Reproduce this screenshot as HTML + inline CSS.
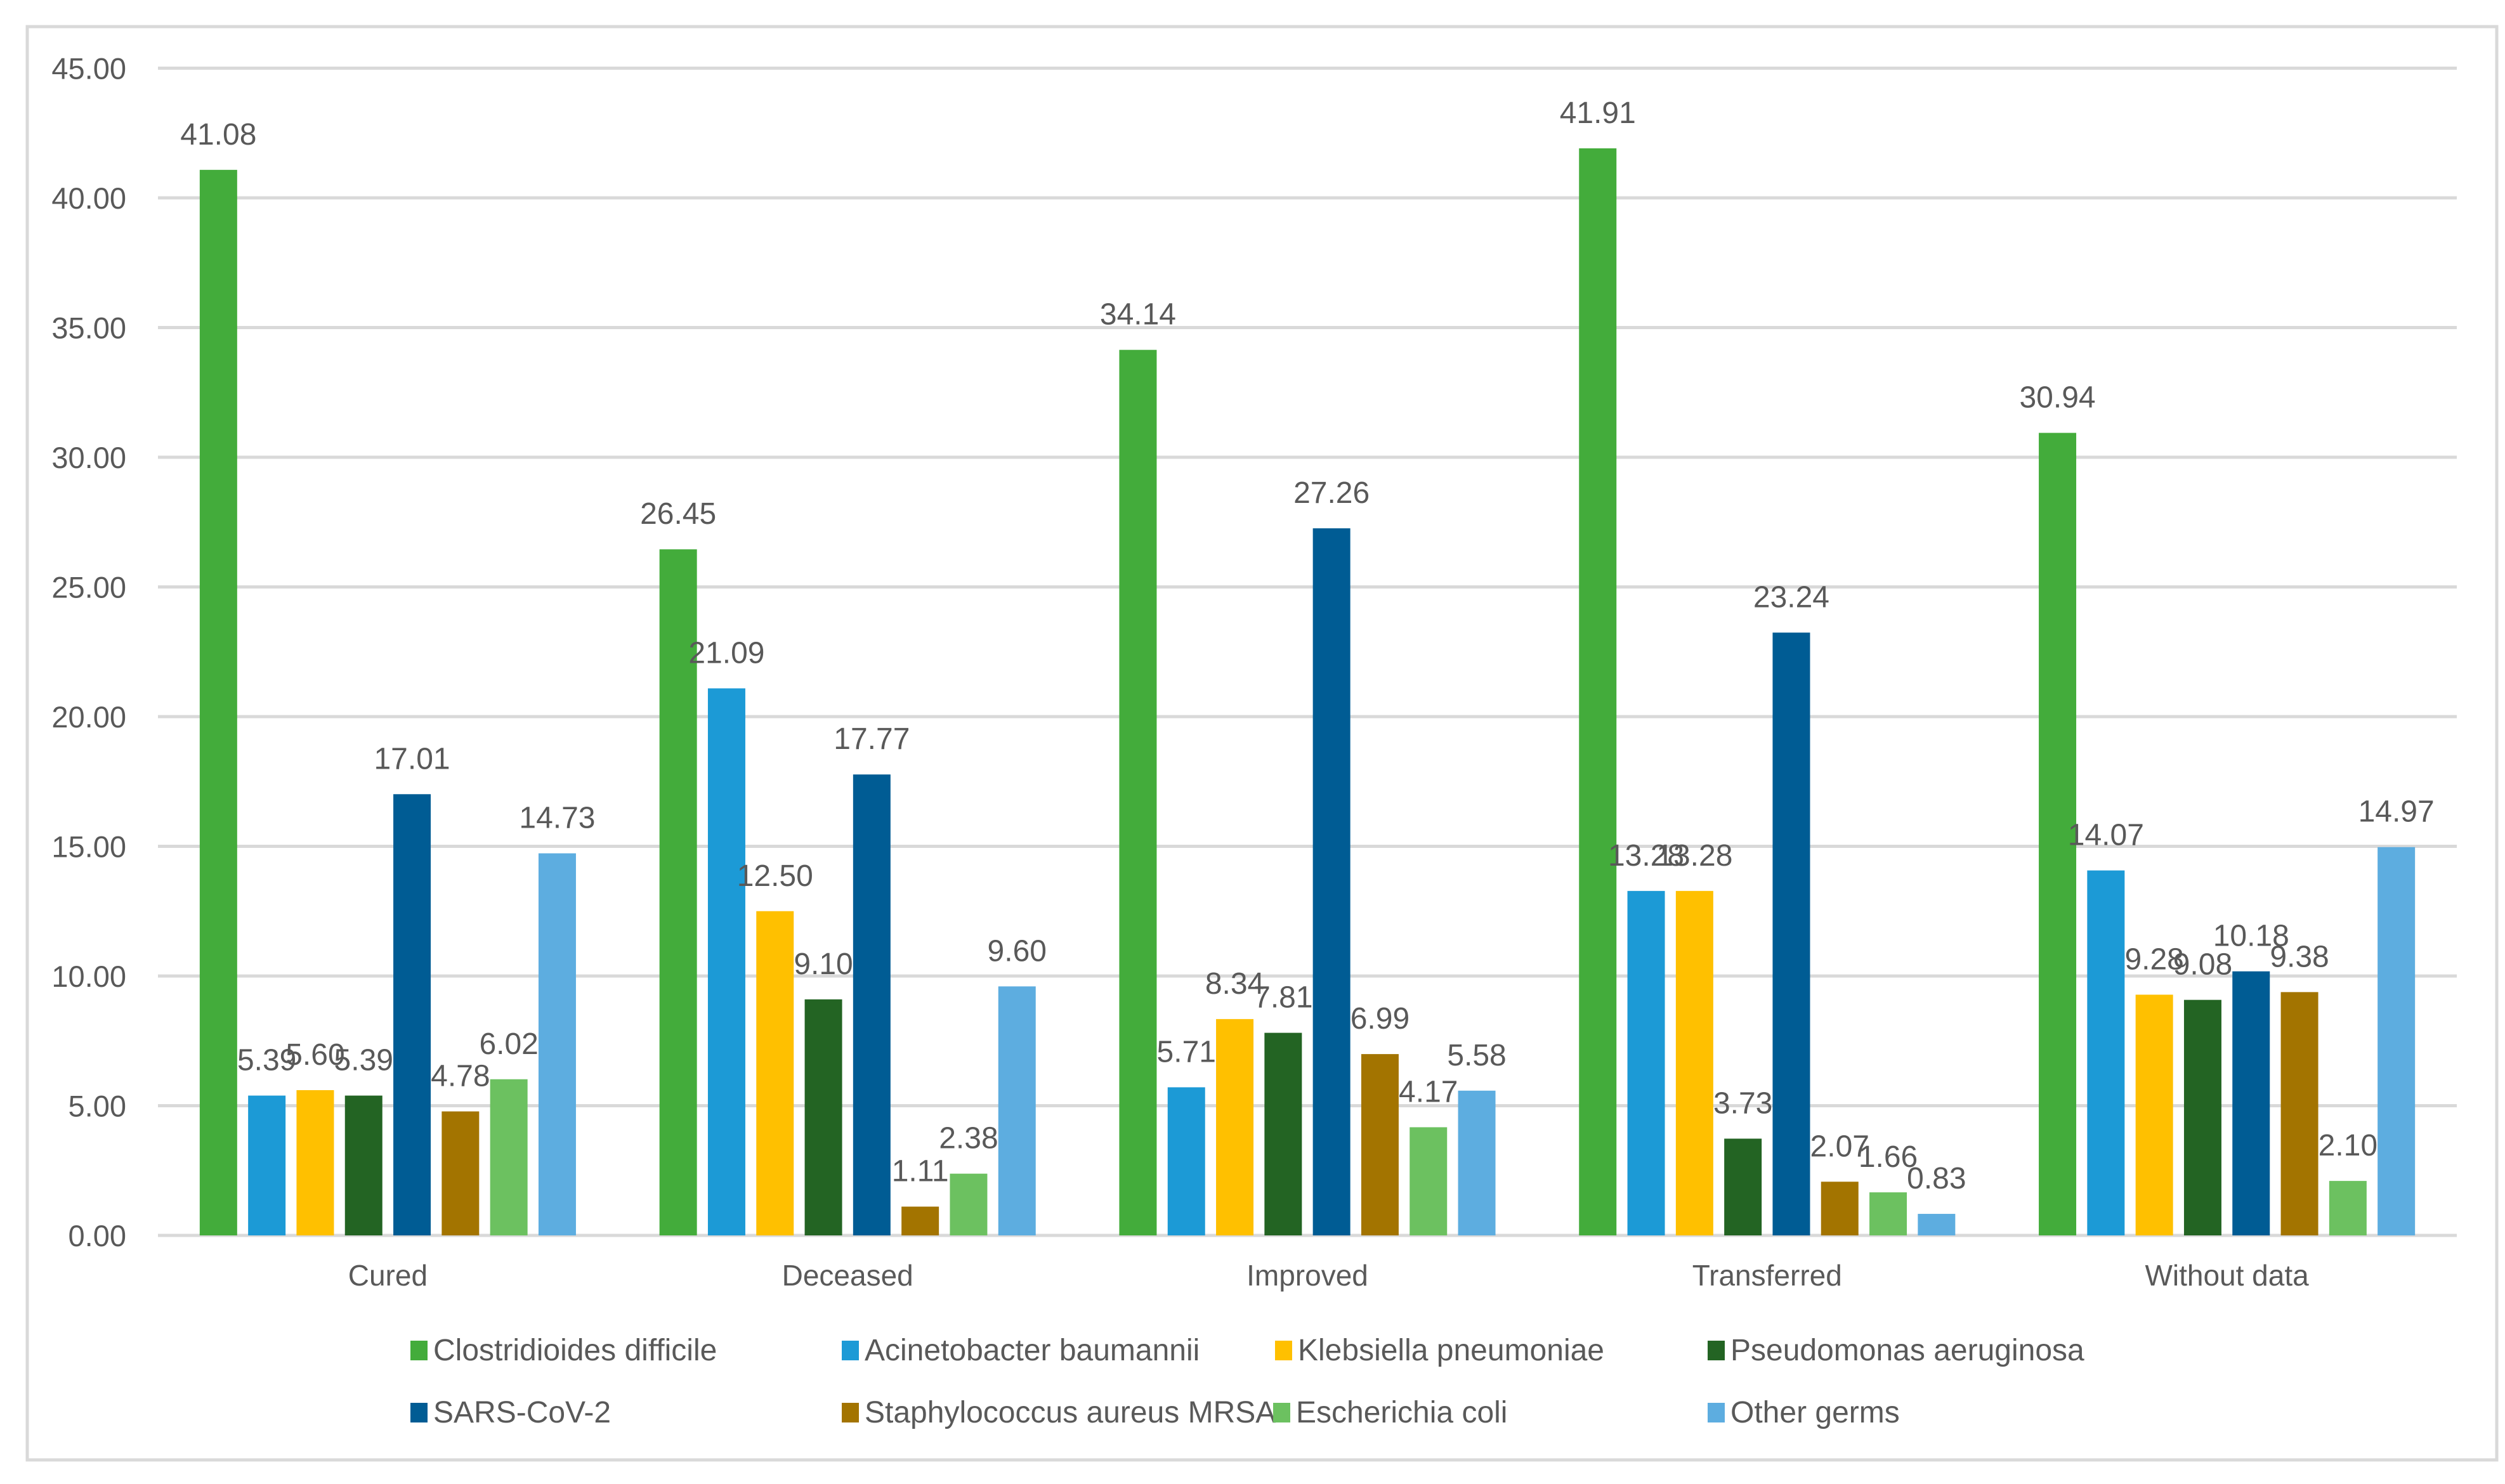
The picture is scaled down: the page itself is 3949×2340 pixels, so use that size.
<!DOCTYPE html>
<html><head><meta charset="utf-8"><style>
html,body{margin:0;padding:0;background:#fff;}
svg{display:block;font-family:"Liberation Sans",sans-serif;}
</style></head><body>
<svg id="chart" width="3949" height="2340" viewBox="0 0 3949 2340" xmlns="http://www.w3.org/2000/svg">
<rect x="43" y="42" width="3893" height="2260" fill="#fff" stroke="#d9d9d9" stroke-width="5"/>
<g id="grid"></g><g id="bars"></g><g id="labels"></g><g id="legend"></g>
</svg>
<script>
const categories = ["Cured","Deceased","Improved","Transferred","Without data"];
const seriesNames = ["Clostridioides difficile","Acinetobacter baumannii","Klebsiella pneumoniae","Pseudomonas aeruginosa","SARS-CoV-2","Staphylococcus aureus MRSA","Escherichia coli","Other germs"];
const clostridioides = [41.08,26.45,34.14,41.91,30.94];
const acinetobacter = [5.39,21.09,5.71,13.28,14.07];
const klebsiella = [5.60,12.50,8.34,13.28,9.28];
const pseudomonas = [5.39,9.10,7.81,3.73,9.08];
const sarsCov2 = [17.01,17.77,27.26,23.24,10.18];
const staphMRSA = [4.78,1.11,6.99,2.07,9.38];
const ecoli = [6.02,2.38,4.17,1.66,2.10];
const otherGerms = [14.73,9.60,5.58,0.83,14.97];
const yTicks = [0,5,10,15,20,25,30,35,40,45];

const series = [clostridioides,acinetobacter,klebsiella,pseudomonas,sarsCov2,staphMRSA,ecoli,otherGerms];
const colors = ["#43AC3B","#1C9AD6","#FFC000","#236423","#005C94","#A37400","#6CC160","#5DADE0"];
const NS="http://www.w3.org/2000/svg";
const plotL=249, plotR=3873, y0=1948, yTop=107.5, yMax=45;
const y=v=>y0-(v/yMax)*(y0-yTop);
const groupW=(plotR-plotL)/categories.length;
const barW=59, pitch=76.3;
const xBar=(g,s)=>plotL+groupW*g+groupW/2-(pitch*7+barW)/2+pitch*s;
function mk(tag,attrs,parent,text){const e=document.createElementNS(NS,tag);for(const k in attrs)e.setAttribute(k,attrs[k]);if(text!==undefined)e.textContent=text;parent.appendChild(e);return e;}
const grid=document.getElementById('grid'),bars=document.getElementById('bars'),labels=document.getElementById('labels'),legend=document.getElementById('legend');
yTicks.forEach(t=>{
  const l=mk('line',{x1:plotL,x2:plotR,y1:y(t),y2:y(t),stroke:'#d9d9d9','stroke-width':5},grid);
  
  
  const tx=mk('text',{x:199,y:y(t)+17,'text-anchor':'end','font-size':47,fill:'#595959'},grid,t.toFixed(2));
  
  
});
categories.forEach((c,g)=>{
  const tx=mk('text',{x:plotL+groupW*g+groupW/2,y:2027,'text-anchor':'middle','font-size':46,fill:'#595959'},labels,c);
  
  
  series.forEach((arr,s)=>{
    const v=arr[g];
    const r=mk('rect',{x:xBar(g,s),y:y(v),width:barW,height:y0-y(v),fill:colors[s]},bars);
    
    
    const lt=mk('text',{x:xBar(g,s)+barW/2,y:y(v)-40,'text-anchor':'middle','font-size':48,fill:'#595959'},labels,v.toFixed(2));
    
    
  });
});
const legPos=[[647,2114],[1327,2114],[2010,2114],[2692,2114],[647,2212],[1327,2212],[2007,2212],[2692,2212]];
seriesNames.forEach((n,i)=>{
  const lx=legPos[i][0], ly=legPos[i][1];
  const sq=mk('rect',{x:lx,y:ly,width:27,height:31,fill:colors[i]},legend);
  
  
  const t=mk('text',{x:lx+36,y:ly+31,'font-size':48,fill:'#595959'},legend,n);
  
  
});
</script>
</body></html>
